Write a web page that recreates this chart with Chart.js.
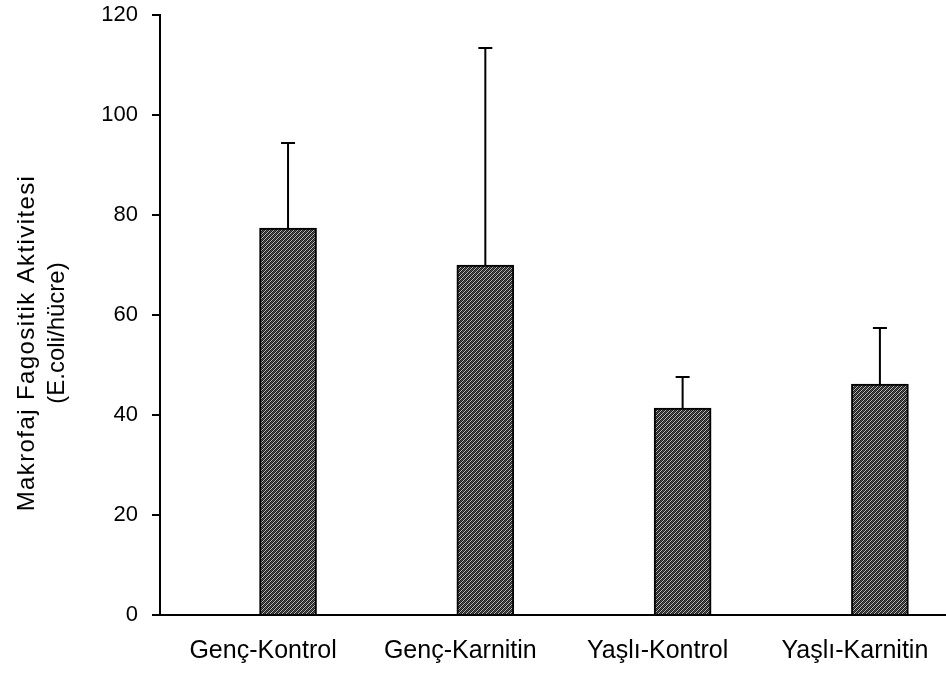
<!DOCTYPE html>
<html>
<head>
<meta charset="utf-8">
<script src="https://cdn.jsdelivr.net/npm/chart.js@4/dist/chart.umd.min.js"></script>
<style>
  html, body { margin: 0; padding: 0; background: #fff; }
  #wrap { width: 946px; height: 673px; }
</style>
</head>
<body>
<div id="wrap"><canvas id="chart"></canvas></div>
<script>
// veriler
const groups = ['Genç-Kontrol', 'Genç-Karnitin', 'Yaşlı-Kontrol', 'Yaşlı-Karnitin'];
const groupPos = [1, 2, 3, 4];
const means = [77.4, 70.0, 41.4, 46.2];
const sdUp = [17.0, 43.4, 6.2, 11.2];
const yTicks = [0, 20, 40, 60, 80, 100, 120];
const yTitle = ['Makrofaj Fagositik Aktivitesi', '(E.coli/hücre)'];

// taralı dolgu deseni
function makePattern() {
    const c = document.createElement('canvas');
    c.width = 4; c.height = 4;
    const g = c.getContext('2d');
    g.fillStyle = '#bdbdbd';
    g.fillRect(0, 0, 4, 4);
    g.fillStyle = '#1a1a1a';
    for (let i = 0; i < 4; i++) {
        g.fillRect(i, i, 1, 1);
        g.fillRect((i + 2) % 4, i, 1, 1);
    }
    g.fillStyle = '#555';
    for (let i = 0; i < 4; i++) g.fillRect((5 - i) % 4, i, 1, 1);
    return g.createPattern(c, 'repeat');
}

// hata çubukları
const errorBars = {
    id: 'errorBars',
    afterDatasetsDraw(chart) {
        const ctx = chart.ctx;
        const y = chart.scales.y;
        const meta = chart.getDatasetMeta(0);
        ctx.save();
        ctx.strokeStyle = '#000';
        ctx.lineWidth = 2;
        meta.data.forEach((bar, i) => {
            const top = y.getPixelForValue(means[i] + sdUp[i]);
            ctx.beginPath();
            ctx.moveTo(bar.x, bar.y);
            ctx.lineTo(bar.x, top);
            ctx.moveTo(bar.x - 7, top);
            ctx.lineTo(bar.x + 7, top);
            ctx.stroke();
        });
        ctx.restore();
    }
};

// dikey eksen başlığı
const yTitlePlugin = {
    id: 'yTitlePlugin',
    afterDraw(chart) {
        const ctx = chart.ctx;
        const a = chart.chartArea;
        const mid = (a.top + a.bottom) / 2;
        ctx.save();
        ctx.fillStyle = '#000';
        ctx.font = '24px "Liberation Sans", Arial, sans-serif';
        ctx.textAlign = 'center';
        ctx.textBaseline = 'middle';
        ctx.translate(27, mid + 28);
        ctx.rotate(-Math.PI / 2);
        ctx.letterSpacing = '1.4px';
        ctx.fillText(yTitle[0], 0, 0);
        ctx.restore();
        ctx.save();
        ctx.fillStyle = '#000';
        ctx.font = '24px "Liberation Sans", Arial, sans-serif';
        ctx.textAlign = 'center';
        ctx.textBaseline = 'middle';
        ctx.translate(57, mid + 18);
        ctx.rotate(-Math.PI / 2);
        ctx.fillText(yTitle[1], 0, 0);
        ctx.restore();
    }
};

new Chart(document.getElementById('chart'), {
    type: 'bar',
    data: {
        datasets: [{
            data: groupPos.map((p, i) => ({ x: p, y: means[i] })),
            backgroundColor: makePattern(),
            borderColor: '#000',
            borderWidth: 2,
            barThickness: 57
        }]
    },
    options: {
        responsive: true,
        maintainAspectRatio: false,
        animation: false,
        layout: { padding: { top: 15, right: 0, bottom: 0, left: 0 } },
        plugins: {
            legend: { display: false },
            tooltip: { enabled: false }
        },
        scales: {
            x: {
                type: 'linear',
                offset: false,
                min: 0.351,
                max: 4.335,
                afterBuildTicks: (s) => { s.ticks = groupPos.map(v => ({ value: v })); },
                afterFit: (s) => { s.height = 58; s.paddingLeft = 0; s.paddingRight = 0; },
                grid: { display: true, drawOnChartArea: false, drawTicks: false },
                border: { display: true, color: '#000', width: 2 },
                ticks: {
                    callback: (v, i) => groups[i],
                    color: '#000',
                    padding: 21,
                    labelOffset: -25,
                    maxRotation: 0,
                    autoSkip: false,
                    font: { family: '"Liberation Sans", Arial, sans-serif', size: 25 }
                }
            },
            y: {
                min: 0,
                max: 120,
                afterBuildTicks: (s) => { s.ticks = yTicks.map(v => ({ value: v })); },
                afterFit: (s) => { s.width = 160; s.paddingTop = 0; s.paddingBottom = 0; },
                grid: { display: true, drawOnChartArea: false, drawTicks: true, tickLength: 8, color: '#000', lineWidth: 2 },
                border: { display: true, color: '#000', width: 2 },
                ticks: {
                    color: '#000',
                    padding: 14,
                    font: { family: '"Liberation Sans", Arial, sans-serif', size: 22 }
                }
            }
        }
    },
    plugins: [errorBars, yTitlePlugin]
});
</script>
</body>
</html>
